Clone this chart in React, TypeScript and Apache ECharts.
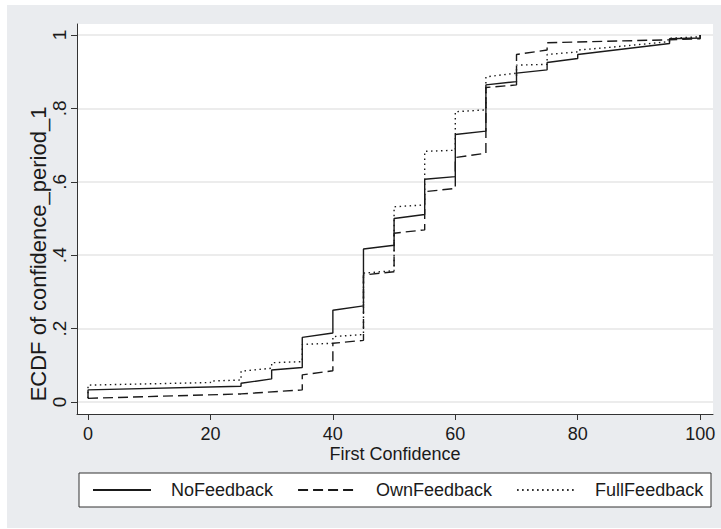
import React, { useEffect, useRef } from "react";
import * as echarts from "echarts";

const seriesNames = ["NoFeedback", "OwnFeedback", "FullFeedback"];
const xTicks = [0, 20, 40, 60, 80, 100];
const yTicks = [0, 0.2, 0.4, 0.6, 0.8, 1];
const xTitle = "First Confidence";
const yTitle = "ECDF of confidence_period_1";

const noFeedback: [number, number][] = [
  [0, 0.01], [0, 0.033], [25, 0.043], [25, 0.051], [30, 0.063], [30, 0.087],
  [35, 0.094], [35, 0.176], [40, 0.188], [40, 0.25], [45, 0.262], [45, 0.417],
  [50, 0.427], [50, 0.5], [55, 0.511], [55, 0.607], [60, 0.614], [60, 0.729],
  [65, 0.738], [65, 0.864], [70, 0.873], [70, 0.896], [75, 0.905], [75, 0.925],
  [80, 0.936], [80, 0.947], [95, 0.977], [95, 0.99], [100, 0.992], [100, 1.0],
];

const ownFeedback: [number, number][] = [
  [0, 0.01], [25, 0.022], [35, 0.033], [35, 0.074], [40, 0.085], [40, 0.16],
  [45, 0.168], [45, 0.346], [50, 0.355], [50, 0.46], [55, 0.469], [55, 0.573],
  [60, 0.582], [60, 0.666], [65, 0.678], [65, 0.857], [70, 0.864], [70, 0.947],
  [75, 0.959], [75, 0.979], [95, 0.987], [100, 0.99], [100, 1.0],
];

const fullFeedback: [number, number][] = [
  [0, 0.01], [0, 0.046], [20, 0.053], [20, 0.057], [25, 0.06], [25, 0.084],
  [30, 0.092], [30, 0.107], [35, 0.11], [35, 0.157], [40, 0.16], [40, 0.178],
  [45, 0.184], [45, 0.351], [50, 0.358], [50, 0.532], [55, 0.537], [55, 0.683],
  [60, 0.686], [60, 0.791], [65, 0.796], [65, 0.886], [70, 0.896], [70, 0.918],
  [75, 0.92], [75, 0.947], [80, 0.954], [80, 0.959], [85, 0.966], [95, 0.982],
  [95, 0.991], [100, 0.995], [100, 1.0],
];

const seriesData = [noFeedback, ownFeedback, fullFeedback];
const dashTypes: any[] = ["solid", [10, 5], [1.5, 3.5]];

const SANS = "'Liberation Sans', Arial, Helvetica, sans-serif";
const INK = "#1a1a1a";

export default function App() {
  const ref = useRef<HTMLDivElement>(null);
  useEffect(() => {
    if (!ref.current) return;
    const chart = echarts.init(ref.current, undefined, { renderer: "svg" });
    chart.setOption({
      animation: false,
      backgroundColor: "#eaecef",
      grid: {
        left: 70,
        top: 19,
        width: 636,
        height: 390,
        show: true,
        backgroundColor: "#ffffff",
        borderWidth: 0,
      },
      xAxis: {
        type: "value",
        min: -1.8,
        max: 102.1,
        name: xTitle,
        nameLocation: "middle",
        nameGap: 31,
        nameMoveOverlap: false,
        nameTextStyle: { fontFamily: SANS, fontSize: 18, color: INK },
        axisLine: { show: true, onZero: false, lineStyle: { color: "#333", width: 1 } },
        axisTick: { show: true, length: 6, customValues: xTicks, lineStyle: { color: "#333" } },
        axisLabel: {
          customValues: xTicks,
          margin: 11,
          fontFamily: SANS,
          fontSize: 18,
          color: INK,
        },
        splitLine: { show: false },
      },
      yAxis: {
        type: "value",
        min: -0.0327,
        max: 1.03,
        axisLine: { show: true, onZero: false, lineStyle: { color: "#333", width: 1 } },
        axisTick: { show: true, length: 6, customValues: yTicks, lineStyle: { color: "#333" } },
        axisLabel: {
          customValues: yTicks,
          rotate: 90,
          margin: 8,
          fontFamily: SANS,
          fontSize: 19,
          color: INK,
          formatter: (v: number) => (v === 0 ? "0" : v === 1 ? "1" : String(v).replace(/^0/, "")),
        },
        splitLine: { show: true, lineStyle: { color: "#e6e6e6", width: 1.5 } },
      },
      legend: {
        data: seriesNames,
        left: 85,
        top: 476,
        padding: 0,
        itemWidth: 58,
        itemHeight: 14,
        itemGap: 24,
        itemStyle: { opacity: 0 },
        textStyle: { fontFamily: SANS, fontSize: 18, color: INK, padding: [0, 0, 0, 15] },
      },
      graphic: [
        {
          type: "rect",
          z: 0,
          shape: { x: 72, y: 468, width: 632, height: 34 },
          style: { fill: "#ffffff", stroke: "#333", lineWidth: 1 },
        },
        {
          type: "text",
          x: 31,
          y: 249,
          rotation: Math.PI / 2,
          style: {
            text: yTitle,
            fontFamily: SANS,
            fontSize: 22,
            fill: INK,
            align: "center",
            verticalAlign: "middle",
          },
        },
      ],
      series: seriesNames.map((name, i) => ({
        name,
        type: "line",
        data: seriesData[i],
        symbol: "none",
        showSymbol: false,
        lineStyle: { color: INK, width: 1.4, type: dashTypes[i] },
        itemStyle: { color: INK },
      })),
    });
    return () => chart.dispose();
  }, []);
  return (
    <div style={{ position: "fixed", left: 0, top: 0, width: 721, height: 529, background: "#fff" }}>
      <div ref={ref} style={{ position: "absolute", left: 7, top: 5, width: 714, height: 523 }} />
    </div>
  );
}
